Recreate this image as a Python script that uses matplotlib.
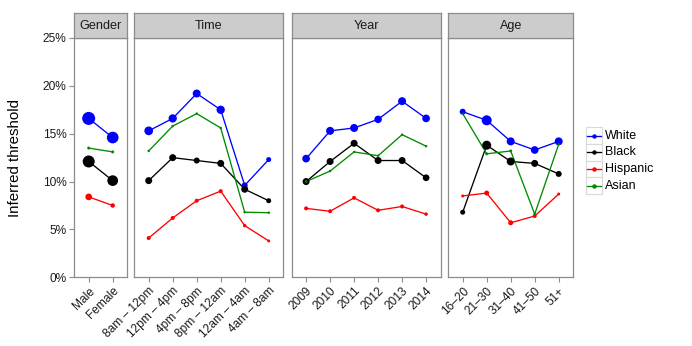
import matplotlib
matplotlib.use("Agg")
import matplotlib.pyplot as plt
from matplotlib.patches import Rectangle
from matplotlib.lines import Line2D

plt.rcParams['font.family'] = ['Liberation Sans', 'DejaVu Sans']

# ---------------- data (percent) ----------------
races = ['White', 'Black', 'Hispanic', 'Asian']
colors = ['#0000FF', '#000000', '#FF0000', '#008B00']

panel_names = ['Gender', 'Time', 'Year', 'Age']

gender_cats = ['Male', 'Female']
time_cats = ['8am – 12pm', '12pm – 4pm', '4pm – 8pm', '8pm – 12am', '12am – 4am', '4am – 8am']
year_cats = ['2009', '2010', '2011', '2012', '2013', '2014']
age_cats = ['16–20', '21–30', '31–40', '41–50', '51+']

gender_white = [16.6, 14.6]
gender_black = [12.1, 10.1]
gender_hispanic = [8.4, 7.5]
gender_asian = [13.5, 13.1]

time_white = [15.3, 16.6, 19.2, 17.5, 9.6, 12.3]
time_black = [10.1, 12.5, 12.2, 11.9, 9.2, 8.0]
time_hispanic = [4.1, 6.2, 8.0, 9.0, 5.4, 3.8]
time_asian = [13.2, 15.8, 17.1, 15.6, 6.8, 6.75]

year_white = [12.4, 15.3, 15.6, 16.5, 18.4, 16.6]
year_black = [10.0, 12.1, 14.0, 12.2, 12.2, 10.4]
year_hispanic = [7.2, 6.9, 8.3, 7.0, 7.4, 6.6]
year_asian = [10.0, 11.1, 13.1, 12.7, 14.9, 13.7]

age_white = [17.3, 16.4, 14.2, 13.3, 14.2]
age_black = [6.8, 13.8, 12.1, 11.9, 10.8]
age_hispanic = [8.5, 8.8, 5.7, 6.4, 8.7]
age_asian = [17.1, 12.9, 13.2, 6.6, 13.9]

# point sizes (marker diameter, px)
gender_white_sz = [13, 11.7]
gender_black_sz = [12, 10.7]
gender_hispanic_sz = [6.7, 4.5]
gender_asian_sz = [3, 3]

time_white_sz = [8.7, 8.3, 8, 8.3, 6, 5]
time_black_sz = [7, 7, 6, 7, 7, 5]
time_hispanic_sz = [4, 4, 4, 4, 3.5, 3]
time_asian_sz = [2.5, 2.5, 2.5, 2.5, 2.5, 2.5]

year_white_sz = [7.7, 8, 8, 7.5, 8, 7.7]
year_black_sz = [7, 7, 7, 7, 7, 6.7]
year_hispanic_sz = [4, 4, 4, 4, 4, 3.5]
year_asian_sz = [2.5, 2.5, 2.5, 2.5, 2.5, 2.5]

age_white_sz = [6, 10, 8, 7.7, 8]
age_black_sz = [5, 9, 8, 7, 6]
age_hispanic_sz = [3, 5, 5, 4, 3]
age_asian_sz = [2, 3, 3, 2.5, 2]

panels = [
    (gender_cats, [gender_white, gender_black, gender_hispanic, gender_asian],
     [gender_white_sz, gender_black_sz, gender_hispanic_sz, gender_asian_sz]),
    (time_cats, [time_white, time_black, time_hispanic, time_asian],
     [time_white_sz, time_black_sz, time_hispanic_sz, time_asian_sz]),
    (year_cats, [year_white, year_black, year_hispanic, year_asian],
     [year_white_sz, year_black_sz, year_hispanic_sz, year_asian_sz]),
    (age_cats, [age_white, age_black, age_hispanic, age_asian],
     [age_white_sz, age_black_sz, age_hispanic_sz, age_asian_sz]),
]

# ---------------- layout ----------------
W, H = 692, 346
fig = plt.figure(figsize=(W / 100, H / 100), dpi=100)

def fx(x):
    return x / W

def fy(y):
    return 1 - y / H

panel_left = [74.3, 134.3, 291.7, 448.3]
unit = 24.0
plot_top, plot_bot = 38.0, 277.3
strip_top = 13.3
border_col = '#8C8C8C'
tick_fs = 8.6
px2pt = 0.72

for i, (cats, series, sizes) in enumerate(panels):
    n = len(cats)
    wpx = (n + 0.2) * unit
    ax = fig.add_axes([fx(panel_left[i]), fy(plot_bot), wpx / W, (plot_bot - plot_top) / H])
    xs = list(range(1, n + 1))
    for vals, sz, col in zip(series, sizes, colors):
        ax.plot(xs, [v / 100 for v in vals], color=col, lw=0.95, zorder=2)
        ax.scatter(xs, [v / 100 for v in vals], s=[(d * px2pt) ** 2 for d in sz],
                   color=col, edgecolors='none', zorder=3)
    ax.set_xlim(0.4, n + 0.6)
    ax.set_ylim(0, 0.25)
    ax.set_xticks(xs)
    ax.set_xticklabels(cats, rotation=45, ha='right', va='top', rotation_mode='anchor',
                       fontsize=tick_fs, color='#1a1a1a')
    ax.set_yticks([0, 0.05, 0.10, 0.15, 0.20, 0.25])
    if i == 0:
        ax.set_yticklabels(['0%', '5%', '10%', '15%', '20%', '25%'], fontsize=tick_fs, color='#1a1a1a')
        ax.tick_params(axis='y', length=3.5, width=0.8, color=border_col, pad=2)
    else:
        ax.tick_params(axis='y', left=False, labelleft=False)
    ax.tick_params(axis='x', length=3.5, width=0.8, color=border_col, pad=2)
    for sp in ax.spines.values():
        sp.set_color(border_col)
        sp.set_linewidth(0.9)
    # strip
    sax = fig.add_axes([fx(panel_left[i]), fy(plot_top), wpx / W, (plot_top - strip_top) / H])
    sax.set_facecolor('#CCCCCC')
    sax.set_xticks([])
    sax.set_yticks([])
    for sp in sax.spines.values():
        sp.set_color(border_col)
        sp.set_linewidth(0.9)
    sax.text(0.5, 0.5, panel_names[i], ha='center', va='center', fontsize=9.1,
             color='#1a1a1a', transform=sax.transAxes)

fig.text(fx(15), fy((plot_top + plot_bot) / 2), 'Inferred threshold', rotation=90,
         ha='center', va='center', fontsize=10.8, color='black')

# legend
key_x, key_y, key_s = 585.7, 127.3, 16.7
for j, (name, col) in enumerate(zip(races, colors)):
    y0 = key_y + j * key_s
    fig.patches.append(Rectangle((fx(key_x), fy(y0 + key_s)), key_s / W, key_s / H,
                                 transform=fig.transFigure, facecolor='white',
                                 edgecolor='#D9D9D9', linewidth=0.8))
    yc = fy(y0 + key_s / 2)
    fig.lines.append(Line2D([fx(key_x + 1.5), fx(key_x + key_s - 1.5)], [yc, yc],
                            transform=fig.transFigure, color=col, lw=0.95))
    fig.lines.append(Line2D([fx(key_x + key_s / 2)], [yc], transform=fig.transFigure,
                            color=col, marker='o', markersize=3.2, markeredgewidth=0))
    fig.text(fx(605), yc, name, ha='left', va='center', fontsize=9.0, color='black')

fig.savefig('out.png', dpi=100)
